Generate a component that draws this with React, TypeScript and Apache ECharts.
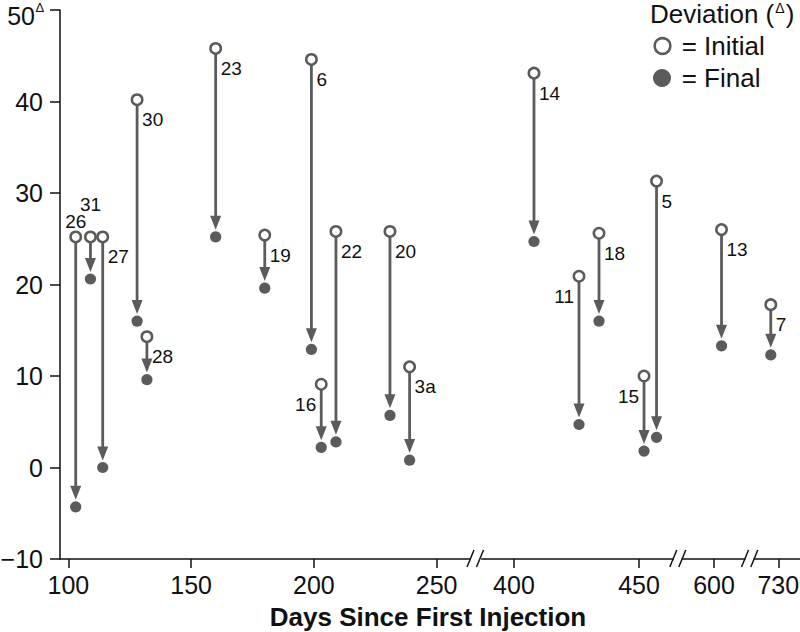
import React, { useEffect, useRef } from 'react';
import * as echarts from 'echarts';

// ---- data ----
const pointIds = ['26', '31', '27', '30', '28', '23', '19', '6', '16', '22', '20', '3a', '14', '11', '18', '15', '5', '13', '7'];
const daysSinceFirstInjection = [103, 109, 114, 128, 132, 160, 180, 199, 203, 209, 231, 239, 408, 426, 434, 452, 457, 603, 727];
const initialDeviation = [25.2, 25.2, 25.2, 40.2, 14.3, 45.8, 25.4, 44.6, 9.1, 25.8, 25.8, 11.0, 43.1, 20.9, 25.6, 10.0, 31.3, 26.0, 17.8];
const finalDeviation = [-4.3, 20.6, 0.0, 16.0, 9.6, 25.2, 19.6, 12.9, 2.2, 2.8, 5.7, 0.8, 24.7, 4.7, 16.0, 1.8, 3.3, 13.3, 12.3];
const labelSide = ['t', 'tt', 'r', 'r', 'r', 'r', 'r', 'r', 'l', 'r', 'r', 'r', 'r', 'l', 'r', 'l', 'r', 'r', 'r'];

// broken x axis: visible ranges and their tick labels
const segmentRanges = [
  [96.6, 263.6],
  [387.1, 463.7],
  [587.3, 612.4],
  [720.4, 738.7],
];
const segmentTicks = [[100, 150, 200, 250], [400, 450], [600], [730]];
const yMin = -10;
const yMax = 50;
const yStep = 10;
const yTopUnit = 'Δ';

const xTitle = 'Days Since First Injection';
const legendTitle = 'Deviation (';
const legendInitial = '= Initial';
const legendFinal = '= Final';

// ---- layout / style ----
const FONT = '"Liberation Sans", Arial, Helvetica, sans-serif';
const INK = '#111111';
const GREY = '#5b5b5b';
const GRID_TOP = 10;
const GRID_H = 549;
const gridBoxes = [
  { left: 60, width: 410 },
  { left: 481.7, width: 191.6 },
  { left: 682.3, width: 62.7 },
  { left: 754.3, width: 45.7 },
];
const AXIS_Y = GRID_TOP + GRID_H;

export default function App() {
  const ref = useRef<HTMLDivElement>(null);

  useEffect(() => {
    if (!ref.current) return;
    const chart = echarts.init(ref.current, undefined, { renderer: 'svg' });

    const grids = gridBoxes.map((g) => ({
      left: g.left,
      top: GRID_TOP,
      width: g.width,
      height: GRID_H,
      containLabel: false,
      outerBoundsMode: 'none',
    }));

    const xAxes = segmentRanges.map((rng, i) => ({
      type: 'value',
      gridIndex: i,
      min: rng[0],
      max: rng[1],
      axisLine: { show: true, onZero: false, lineStyle: { color: INK, width: 1.5 } },
      axisTick: { show: true, length: 9, customValues: segmentTicks[i], lineStyle: { color: INK, width: 1.5 } },
      axisLabel: {
        customValues: segmentTicks[i],
        fontSize: 25,
        color: INK,
        margin: 13,
        fontFamily: FONT,
      },
      splitLine: { show: false },
    }));

    const yAxes = segmentRanges.map((_, i) => ({
      type: 'value',
      gridIndex: i,
      min: yMin,
      max: yMax,
      interval: yStep,
      show: i === 0,
      axisLine: { show: true, lineStyle: { color: INK, width: 1.5 } },
      axisTick: { show: true, length: 10, lineStyle: { color: INK, width: 1.5 } },
      axisLabel: {
        fontSize: 25,
        color: INK,
        margin: 17,
        fontFamily: FONT,
        // the top label (with its unit mark) is drawn lower down, inside the page
        formatter: (v: number) => {
          if (v === yMax) return '';
          if (v < 0) return '\u2212' + Math.abs(v);
          return String(v);
        },
      },
      splitLine: { show: false },
    }));

    const series = segmentRanges.map((rng, si) => {
      const data: number[][] = [];
      daysSinceFirstInjection.forEach((d, k) => {
        if (d >= rng[0] && d <= rng[1]) data.push([d, initialDeviation[k], finalDeviation[k], k]);
      });
      return {
        type: 'custom',
        coordinateSystem: 'cartesian2d',
        xAxisIndex: si,
        yAxisIndex: si,
        clip: false,
        encode: { x: 0, y: [1, 2] },
        data,
        renderItem: (params: any, api: any) => {
          const x = api.value(0);
          const k = api.value(3);
          const p0 = api.coord([x, api.value(1)]);
          const p1 = api.coord([x, api.value(2)]);
          const r0 = 5.2;
          const rf = 5.6;
          const headH = 14;
          const headW = 11;
          const tipY = p1[1] - rf - 1.5;
          const side = labelSide[k];
          let lx = p0[0] + 5;
          let ly = p0[1] + 20;
          let align = 'left';
          if (side === 'l') {
            lx = p0[0] - 5;
            align = 'right';
          } else if (side === 't') {
            lx = p0[0];
            ly = p0[1] - 15;
            align = 'center';
          } else if (side === 'tt') {
            lx = p0[0];
            ly = p0[1] - 32;
            align = 'center';
          }
          return {
            type: 'group',
            children: [
              {
                type: 'line',
                shape: { x1: p0[0], y1: p0[1] + r0, x2: p0[0], y2: tipY - headH + 1 },
                style: { stroke: GREY, lineWidth: 2.8 },
              },
              {
                type: 'polygon',
                shape: {
                  points: [
                    [p1[0] - headW / 2, tipY - headH],
                    [p1[0] + headW / 2, tipY - headH],
                    [p1[0], tipY],
                  ],
                },
                style: { fill: GREY },
              },
              {
                type: 'circle',
                shape: { cx: p1[0], cy: p1[1], r: rf },
                style: { fill: GREY },
              },
              {
                type: 'circle',
                shape: { cx: p0[0], cy: p0[1], r: r0 },
                style: { fill: '#ffffff', stroke: GREY, lineWidth: 2.5 },
              },
              {
                type: 'text',
                x: lx,
                y: ly,
                style: {
                  text: pointIds[k],
                  fill: INK,
                  fontSize: 19,
                  fontFamily: FONT,
                  textAlign: align,
                  textVerticalAlign: 'middle',
                },
              },
            ],
          };
        },
      };
    });

    // axis break marks ("//") at the gaps
    const breakCenters = [470.5, 480, 673.3, 682.3, 745, 754.3];
    const breakMarks = breakCenters.map((cx) => ({
      type: 'line',
      shape: { x1: cx - 3.5, y1: AXIS_Y + 8, x2: cx + 3.5, y2: AXIS_Y - 9 },
      style: { stroke: INK, lineWidth: 1.5 },
    }));

    const graphic = [
      ...breakMarks,
      {
        type: 'text',
        x: 35,
        y: 16,
        style: {
          text: String(yMax),
          fill: INK,
          fontSize: 25,
          fontFamily: FONT,
          textAlign: 'right',
          textVerticalAlign: 'middle',
        },
      },
      {
        type: 'text',
        x: 35.5,
        y: 7.5,
        style: {
          text: yTopUnit,
          fill: INK,
          fontSize: 13,
          fontFamily: FONT,
          textAlign: 'left',
          textVerticalAlign: 'middle',
        },
      },
      {
        type: 'text',
        x: 428,
        y: 617,
        style: {
          text: xTitle,
          fill: INK,
          fontSize: 26,
          fontWeight: 'bold',
          fontFamily: FONT,
          textAlign: 'center',
          textVerticalAlign: 'middle',
        },
      },
      {
        type: 'text',
        x: 650,
        y: 14,
        style: {
          text: legendTitle + '{s|Δ})',
          fill: INK,
          fontSize: 26,
          fontFamily: FONT,
          textAlign: 'left',
          textVerticalAlign: 'middle',
          rich: {
            s: { fontSize: 14, fill: INK, fontFamily: FONT, verticalAlign: 'top', padding: [0, 1, 10, 1] },
          },
        },
      },
      {
        type: 'circle',
        shape: { cx: 662.5, cy: 46, r: 7.8 },
        style: { fill: '#ffffff', stroke: GREY, lineWidth: 2.6 },
      },
      {
        type: 'text',
        x: 681.7,
        y: 46,
        style: { text: legendInitial, fill: INK, fontSize: 26, fontFamily: FONT, textAlign: 'left', textVerticalAlign: 'middle' },
      },
      {
        type: 'circle',
        shape: { cx: 662, cy: 78, r: 9 },
        style: { fill: GREY },
      },
      {
        type: 'text',
        x: 681.7,
        y: 78,
        style: { text: legendFinal, fill: INK, fontSize: 26, fontFamily: FONT, textAlign: 'left', textVerticalAlign: 'middle' },
      },
    ];

    chart.setOption({
      animation: false,
      backgroundColor: '#ffffff',
      textStyle: { fontFamily: FONT },
      grid: grids,
      xAxis: xAxes,
      yAxis: yAxes,
      series,
      graphic,
    } as any);

    return () => chart.dispose();
  }, []);

  return <div ref={ref} style={{ position: 'absolute', left: 0, top: 0, width: 800, height: 632 }} />;
}
